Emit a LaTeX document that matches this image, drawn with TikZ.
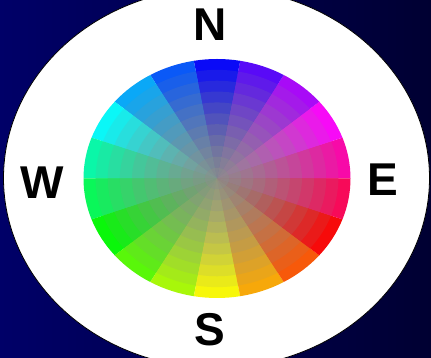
\documentclass[tikz,border=0pt]{standalone}
\usepackage{fontspec}
\setmainfont{Liberation Sans}
\usepackage{tikz}
\usepackage{xcolor}
\definecolor{navyleft}{RGB}{0,0,104}
\definecolor{navyright}{RGB}{0,0,50}
\definecolor{wheelgray}{RGB}{138,142,138}

\begin{document}
\begin{tikzpicture}[x=1pt,y=1pt,
  dir/.style={font=\bfseries\fontsize{46}{46}\selectfont,inner sep=0pt,text=black},
  rim/.style={fill=white,draw=black,line width=0.8pt}
]
\def\RX{133.5}
\def\RY{119.5}
\def\NR{11}
\useasboundingbox (0,0) rectangle (431,358);
\shade[left color=navyleft,right color=navyright] (0,0) rectangle (431,358);
\draw[rim] (216.5,180) ellipse [x radius=213, y radius=190];
% colour wheel: 18 sectors, 11 rings fading to grey
\begin{scope}[shift={(217,179.5)}]
\foreach \i in {11,10,...,1}{
  \pgfmathsetmacro\f{\i/\NR}
  \pgfmathsetmacro\t{3+90*(\i/\NR)^1.4}
  \foreach \k in {0,...,17}{
    \pgfmathsetmacro\a{20*\k}
    \pgfmathsetmacro\h{mod(680-20*\k,360)}
    \definecolor{seghsb}{Hsb}{\h,1,1}
    \colorlet{segc}[rgb]{seghsb}
    \fill[segc!\t!wheelgray] (0,0) -- (\a:{\RX*\f} and {\RY*\f})
      arc[start angle=\a, end angle=\a+20, x radius=\RX*\f, y radius=\RY*\f] -- cycle;
  }
}
\end{scope}
\node[dir] (north) at (210,333) {N};
\node[dir] (south) at (210,28) {S};
\node[dir] (west) at (42,175) {W};
\node[dir] (east) at (383,178.5) {E};
\end{tikzpicture}
\end{document}
